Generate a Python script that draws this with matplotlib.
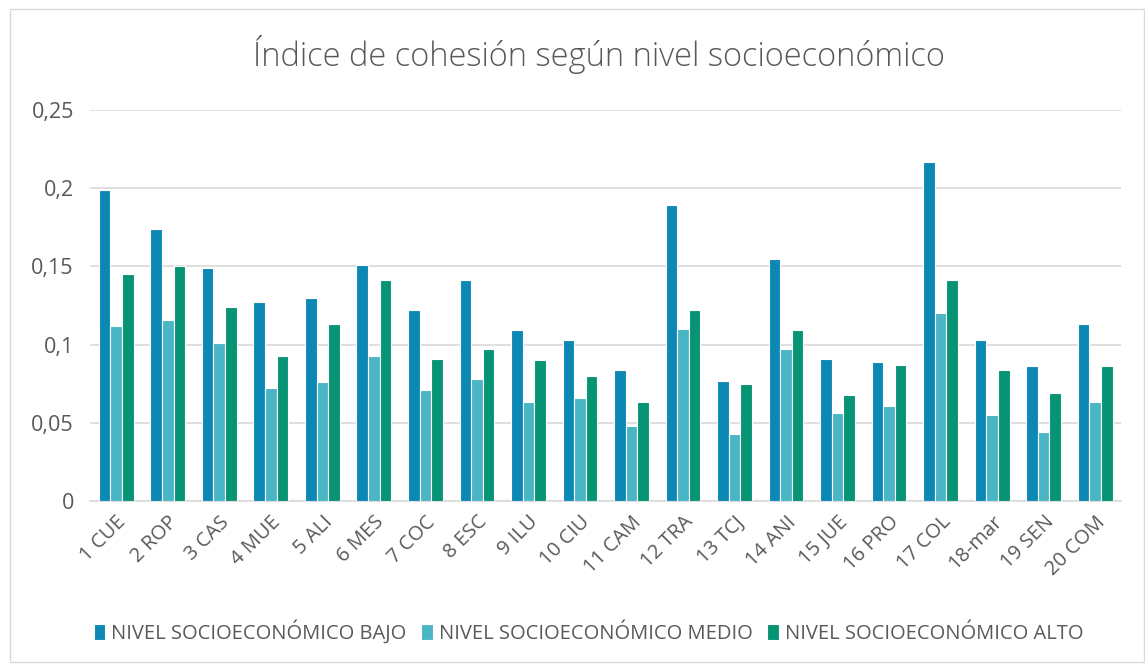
import matplotlib
matplotlib.use("Agg")
import matplotlib.pyplot as plt
import numpy as np
from matplotlib.patches import Rectangle

plt.rcParams['font.family'] = ['Open Sans', 'DejaVu Sans']

categories = ['1 CUE', '2 ROP', '3 CAS', '4 MUE', '5 ALI', '6 MES', '7 COC', '8 ESC', '9 ILU',
              '10 CIU', '11 CAM', '12 TRA', '13 TCJ', '14 ANI', '15 JUE', '16 PRO', '17 COL',
              '18-mar', '19 SEN', '20 COM']
bajo = [0.199, 0.174, 0.149, 0.127, 0.130, 0.151, 0.122, 0.141, 0.109, 0.103,
        0.084, 0.189, 0.077, 0.155, 0.091, 0.089, 0.217, 0.103, 0.086, 0.113]
medio = [0.112, 0.116, 0.101, 0.072, 0.076, 0.093, 0.071, 0.078, 0.063, 0.066,
         0.048, 0.110, 0.043, 0.097, 0.056, 0.061, 0.120, 0.055, 0.044, 0.063]
alto = [0.145, 0.150, 0.124, 0.093, 0.113, 0.141, 0.091, 0.097, 0.090, 0.080,
        0.063, 0.122, 0.075, 0.109, 0.068, 0.087, 0.141, 0.084, 0.069, 0.086]
series = ['NIVEL SOCIOECONÓMICO BAJO', 'NIVEL SOCIOECONÓMICO MEDIO', 'NIVEL SOCIOECONÓMICO ALTO']
colors = ['#0B88B4', '#4AB5C4', '#069475']
yticks = [0, 0.05, 0.1, 0.15, 0.2, 0.25]
ytick_labels = ['0', '0,05', '0,1', '0,15', '0,2', '0,25']

fig = plt.figure(figsize=(11.45, 6.64), dpi=100)
fig.patches.append(Rectangle((0.009, 0.003), 0.99, 0.983, transform=fig.transFigure,
                             fill=False, edgecolor='#d9d9d9', linewidth=1))
ax = fig.add_axes([0.079, 0.2455, 0.9, 0.589])

x = np.arange(len(categories))
w = 0.225
for i, (vals, c, name) in enumerate(zip([bajo, medio, alto], colors, series)):
    ax.bar(x + (i - 1) * w, vals, width=w, color=c, edgecolor='white', linewidth=0.8,
           label=name, zorder=3)

ax.set_xlim(-0.5, len(categories) - 0.5)
ax.set_ylim(0, 0.25)
ax.set_yticks(yticks)
ax.set_yticklabels(ytick_labels, fontsize=15.5, color='#595959')
ax.set_xticks(x)
ax.set_xticklabels(categories, rotation=45, ha='right', rotation_mode='anchor',
                   fontsize=14.5, color='#595959')
ax.tick_params(axis='y', length=0, pad=12)
ax.tick_params(axis='x', length=0, pad=8)
ax.grid(axis='y', color='#d9d9d9', linewidth=1.2, zorder=0)
for s in ['top', 'right', 'left']:
    ax.spines[s].set_visible(False)
ax.spines['bottom'].set_color('#d9d9d9')
ax.spines['bottom'].set_linewidth(1.2)

fig.text(0.523, 0.918, 'Índice de cohesión según nivel socioeconómico', ha='center', va='center',
         fontsize=23.5, color='#595959', fontweight='light')

fig.legend(loc='center', bbox_to_anchor=(0.514, 0.048), ncol=3, frameon=False,
           fontsize=14.5, handlelength=0.55, handleheight=0.9, handletextpad=0.3,
           columnspacing=0.75, labelcolor='#595959')

fig.savefig('out.png', dpi=100)
